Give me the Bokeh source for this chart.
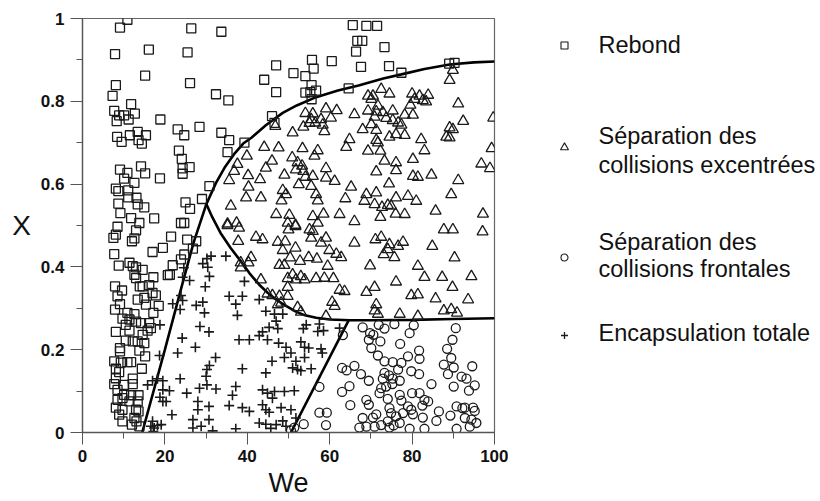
from bokeh.plotting import figure
from bokeh.models import Range1d, FixedTicker
from bokeh.layouts import row
from bokeh.embed import file_html
from bokeh.resources import INLINE
from bokeh.core.properties import value

# ---------------- data ----------------
# Rebond (squares)
rebond_we = [10.9, 9.1, 26.4, 33.7, 7.9, 16.1, 25.5, 15.2, 8.1, 26.1, 32.4, 7.3, 11.8, 7.7, 8.9, 10.1, 12.7,
             8.3, 11.2, 18.9, 23.1, 28.4, 24.7, 33.7, 8.4, 9.5, 11.5, 13.4, 15.4, 13.6, 14.4, 23.4, 24.1,
             9.1, 10.9, 14.2, 15.2, 18.8, 24.3, 26.0, 24.3, 10.1, 12.6, 8.1, 8.7, 11.1, 30.8, 11.1, 13.1,
             29.0, 8.7, 13.4, 15.0, 25.0, 26.1, 9.2, 11.8, 13.8, 17.4, 23.9, 24.7, 8.5,
             65.6, 66.7, 67.9, 66.4, 67.6, 55.7, 60.5, 47.0, 56.1, 51.2, 54.1, 44.1, 47.0, 55.6, 54.1, 55.3,
             56.7, 55.6, 64.6, 35.4, 46.0, 46.6, 35.6, 39.3, 35.2,
             68.9, 71.5, 73.3, 74.4, 77.4, 89.0, 90.3,
             13.0, 7.5, 8.1, 12.0, 12.6, 21.5, 19.5, 17.0, 7.7, 25.4, 27.6, 26.8, 24.7, 23.9, 21.9, 8.8,
             11.4, 12.2, 13.0, 14.6, 12.6, 13.0, 17.2, 20.7, 21.2, 13.9, 14.6, 16.2, 7.9, 9.6, 8.5, 17.0,
             17.8, 13.4, 15.0, 15.4, 9.1, 18.5, 7.9, 10.9, 12.6, 17.2, 9.7, 11.4, 13.0, 10.5, 14.2, 16.2,
             15.8, 16.6, 8.1, 11.4, 14.6, 10.5, 12.2, 13.4, 15.0, 9.1, 9.1, 13.8, 15.2, 7.7, 9.3, 10.9,
             11.8, 8.1, 8.9, 14.4, 8.1, 12.2, 7.7, 10.1, 12.2, 8.5, 10.1, 11.8, 13.6, 8.5, 9.7, 11.4,
             13.4, 8.1, 9.7, 13.0, 8.9, 13.6, 9.7, 12.6, 12.0, 13.8, 13.1]
rebond_x = [0.997, 0.978, 0.976, 0.968, 0.914, 0.925, 0.918, 0.862, 0.839, 0.844, 0.817, 0.813, 0.793, 0.777,
            0.766, 0.766, 0.770, 0.752, 0.756, 0.756, 0.732, 0.738, 0.718, 0.724, 0.714, 0.702, 0.718, 0.726,
            0.718, 0.706, 0.698, 0.681, 0.661, 0.635, 0.627, 0.643, 0.626, 0.614, 0.638, 0.641, 0.625, 0.613,
            0.603, 0.589, 0.583, 0.585, 0.595, 0.568, 0.567, 0.564, 0.553, 0.551, 0.544, 0.556, 0.540, 0.530,
            0.518, 0.506, 0.517, 0.506, 0.506, 0.497,
            0.984, 0.946, 0.946, 0.920, 0.883, 0.900, 0.897, 0.887, 0.879, 0.868, 0.861, 0.852, 0.822, 0.839,
            0.821, 0.822, 0.826, 0.805, 0.831, 0.802, 0.764, 0.748, 0.706, 0.700, 0.677,
            0.982, 0.982, 0.931, 0.885, 0.869, 0.891, 0.893,
            0.488, 0.470, 0.478, 0.462, 0.469, 0.473, 0.446, 0.436, 0.431, 0.466, 0.462, 0.444, 0.430, 0.418,
            0.404, 0.403, 0.410, 0.402, 0.399, 0.393, 0.381, 0.373, 0.375, 0.380, 0.381, 0.353, 0.353, 0.356,
            0.353, 0.343, 0.329, 0.337, 0.331, 0.321, 0.325, 0.309, 0.310, 0.306, 0.297, 0.289, 0.286, 0.289,
            0.275, 0.273, 0.268, 0.260, 0.264, 0.264, 0.246, 0.252, 0.243, 0.246, 0.236, 0.222, 0.220, 0.220,
            0.216, 0.204, 0.196, 0.198, 0.184, 0.172, 0.169, 0.170, 0.170, 0.154, 0.146, 0.154, 0.131, 0.130,
            0.117, 0.115, 0.117, 0.103, 0.091, 0.090, 0.090, 0.079, 0.083, 0.075, 0.075, 0.060, 0.055, 0.055,
            0.043, 0.051, 0.027, 0.035, 0.019, 0.015, 0.027]

# Separation des collisions excentrees (triangles)
excentrees_we = [54.1, 55.9, 55.5, 59.1, 61.7, 66.0, 57.9, 60.3, 55.1, 56.5, 58.3, 58.7, 53.6, 46.8, 51.0, 64.8,
                 64.0, 44.1, 47.6, 53.4, 57.1, 56.3, 39.9, 46.0, 50.9, 52.2, 53.3, 53.6, 37.6, 36.8, 44.5, 51.8,
                 59.1, 55.9, 54.1, 59.1, 61.2, 35.6, 40.2, 43.1, 49.0, 52.5, 55.5, 40.3, 48.6, 49.4, 65.2, 56.7,
                 39.7, 43.3, 48.3, 57.1, 63.8, 36.0, 47.0, 50.2, 55.9, 58.5, 62.4, 66.0, 35.2, 37.4, 49.8, 51.7,
                 57.1,
                 89.9, 89.1, 72.5, 74.5, 69.3, 70.5, 70.1, 80.0, 81.8, 83.9, 80.6, 82.6, 83.4, 79.6, 91.2, 71.7,
                 69.3, 71.3, 72.9, 75.3, 78.2, 80.2, 70.9, 73.7, 75.3, 76.6, 77.4, 70.1, 68.0, 71.3, 92.4, 99.7,
                 89.1, 89.9, 88.3, 89.1, 74.5, 76.1, 78.2, 82.2, 71.3, 71.7, 69.3, 72.3, 83.0, 99.3, 73.3, 76.1,
                 80.2, 96.8, 98.9, 71.3, 76.1, 80.2, 81.4, 84.7, 91.2, 74.4, 68.9, 71.3, 89.5, 79.0, 76.1, 68.4,
                 70.9, 72.7, 74.1, 74.9, 81.0, 76.0, 78.2, 85.7, 72.3, 97.2,
                 35.2, 38.0, 37.8, 42.1, 43.7, 47.4, 49.2, 50.0, 51.7, 55.1, 55.9, 59.1, 55.5, 57.9, 51.7, 48.6,
                 59.9, 61.6, 62.8, 66.0, 54.9, 56.9, 50.4, 52.8, 40.9, 38.4, 40.3, 47.8, 49.0, 59.5, 38.4, 51.0,
                 53.0, 49.8, 51.8, 53.9, 56.7, 58.7, 60.9, 43.3, 49.8, 62.4, 63.6, 44.9, 46.1, 49.8, 47.8, 60.6,
                 61.2, 47.4, 48.2, 52.2, 53.0, 59.1,
                 87.7, 89.9, 97.1, 71.1, 72.5, 74.5, 76.6, 77.8, 74.1, 73.1, 75.7, 84.9, 90.3, 69.8, 81.4, 83.0,
                 87.3, 94.4, 76.1, 89.8, 70.9, 68.9, 79.8, 81.4, 85.7, 93.6, 71.3, 70.9, 71.7, 77.0, 81.4, 87.7,
                 89.5, 90.9]
excentrees_x = [0.771, 0.770, 0.756, 0.782, 0.778, 0.768, 0.756, 0.760, 0.747, 0.748, 0.743, 0.727, 0.738, 0.740,
                0.724, 0.708, 0.689, 0.689, 0.688, 0.686, 0.681, 0.668, 0.668, 0.656, 0.664, 0.652, 0.644, 0.631,
                0.648, 0.631, 0.639, 0.635, 0.638, 0.619, 0.617, 0.615, 0.607, 0.609, 0.621, 0.611, 0.622, 0.599,
                0.595, 0.593, 0.585, 0.575, 0.593, 0.575, 0.567, 0.567, 0.560, 0.560, 0.565, 0.547, 0.527, 0.525,
                0.522, 0.528, 0.527, 0.510, 0.504, 0.506, 0.506, 0.501, 0.506,
                0.875, 0.851, 0.829, 0.818, 0.813, 0.813, 0.805, 0.818, 0.813, 0.815, 0.805, 0.802, 0.799, 0.791,
                0.794, 0.789, 0.777, 0.775, 0.773, 0.777, 0.767, 0.767, 0.762, 0.759, 0.754, 0.748, 0.743, 0.744,
                0.732, 0.730, 0.752, 0.760, 0.736, 0.732, 0.714, 0.712, 0.714, 0.720, 0.718, 0.708, 0.706, 0.700,
                0.680, 0.680, 0.681, 0.686, 0.656, 0.652, 0.660, 0.649, 0.638, 0.630, 0.633, 0.619, 0.617, 0.622,
                0.609, 0.601, 0.575, 0.579, 0.575, 0.571, 0.567, 0.559, 0.551, 0.544, 0.549, 0.547, 0.559, 0.528,
                0.527, 0.535, 0.520, 0.528,
                0.500, 0.494, 0.462, 0.472, 0.466, 0.460, 0.461, 0.490, 0.498, 0.490, 0.486, 0.470, 0.470, 0.458,
                0.446, 0.440, 0.440, 0.431, 0.423, 0.458, 0.423, 0.419, 0.422, 0.414, 0.423, 0.410, 0.410, 0.404,
                0.404, 0.402, 0.398, 0.381, 0.377, 0.372, 0.369, 0.369, 0.372, 0.373, 0.372, 0.369, 0.351, 0.344,
                0.341, 0.335, 0.331, 0.329, 0.329, 0.315, 0.305, 0.309, 0.313, 0.302, 0.291, 0.281,
                0.490, 0.490, 0.485, 0.466, 0.472, 0.454, 0.450, 0.460, 0.442, 0.430, 0.423, 0.450, 0.422, 0.403,
                0.402, 0.375, 0.375, 0.377, 0.364, 0.351, 0.351, 0.339, 0.331, 0.333, 0.323, 0.321, 0.309, 0.294,
                0.286, 0.286, 0.281, 0.294, 0.297, 0.289]

# Separation des collisions frontales (circles)
frontales_we = [50.6, 51.4, 53.7, 57.5, 59.3, 59.1, 57.5, 63.2, 63.0, 64.1, 66.0, 64.8, 63.0, 65.0,
                68.0, 71.9, 73.3, 75.7, 80.4, 79.4, 90.6, 69.8, 70.6, 69.5, 72.3, 77.1, 89.8, 70.1, 81.7, 88.5,
                71.7, 79.0, 81.8, 89.5, 73.3, 75.3, 77.4, 76.6, 79.8, 81.7, 87.7, 90.1, 94.6, 88.7, 92.0, 93.2,
                67.6, 69.5, 73.3, 74.4, 72.9, 75.3, 77.0, 75.2, 84.7, 95.2, 72.5, 73.7, 90.1, 93.8, 72.1, 80.0,
                81.8, 74.1, 77.0, 83.0, 83.9, 68.9, 69.5, 77.4, 79.0, 82.5, 90.8, 92.2, 92.8, 94.8, 95.2, 74.5,
                74.9, 79.8, 80.2, 86.5, 71.3, 70.5, 68.0, 76.1, 77.8, 82.6, 89.3, 92.8, 94.4, 95.6, 85.9, 74.1,
                77.0, 67.2, 68.9, 70.9, 72.5, 74.5, 75.5, 79.4, 83.0, 90.8, 94.0]
frontales_x = [0.005, 0.012, 0.020, 0.048, 0.048, 0.018, 0.110, 0.235, 0.156, 0.150, 0.161, 0.112, 0.098, 0.066,
               0.254, 0.260, 0.251, 0.262, 0.259, 0.240, 0.252, 0.240, 0.236, 0.224, 0.220, 0.214, 0.224, 0.204,
               0.198, 0.202, 0.186, 0.184, 0.178, 0.180, 0.172, 0.170, 0.168, 0.152, 0.148, 0.141, 0.164, 0.157,
               0.160, 0.141, 0.135, 0.130, 0.141, 0.125, 0.144, 0.138, 0.130, 0.130, 0.125, 0.117, 0.117, 0.114,
               0.107, 0.111, 0.111, 0.101, 0.095, 0.095, 0.095, 0.081, 0.091, 0.079, 0.075, 0.079, 0.067, 0.077,
               0.063, 0.065, 0.063, 0.059, 0.060, 0.060, 0.052, 0.059, 0.047, 0.055, 0.044, 0.051, 0.044, 0.036,
               0.035, 0.039, 0.047, 0.036, 0.041, 0.035, 0.031, 0.023, 0.028, 0.027, 0.023, 0.012, 0.014, 0.014,
               0.018, 0.012, 0.017, 0.009, 0.009, 0.009, 0.014]

# Encapsulation totale (plus signs)
encaps_we = [31.2, 30.2, 29.2, 30.4, 24.6, 24.3, 26.0, 30.8, 29.8, 23.9, 24.3, 21.9, 27.6, 29.2, 23.7, 29.6,
             28.5, 30.7, 24.2, 18.8, 27.4, 23.1, 18.7, 32.3, 30.8, 30.2, 30.0, 23.7, 17.0, 18.2, 19.5, 15.8,
             19.5, 21.1, 28.4, 30.2, 32.4, 25.3, 18.8, 20.3, 19.5, 28.0, 30.7, 28.0, 21.7, 26.8, 30.7, 28.8,
             26.8, 31.6, 17.0, 16.6, 17.4, 18.2, 19.1, 17.2,
             34.8, 39.3, 35.6, 38.8, 37.2, 42.9, 37.6, 44.5, 46.6, 48.6, 47.0, 45.3, 47.4, 54.3, 53.6, 57.5,
             57.1, 58.5, 62.4, 43.7, 42.9, 44.9, 38.0, 40.5, 47.6, 49.4, 53.0, 53.9, 54.9, 57.9, 50.6, 49.0,
             53.9, 58.2, 46.0, 51.8, 51.0, 52.2, 53.0, 55.5, 38.8, 44.5, 37.2, 43.7, 44.9, 46.6, 49.0,
             51.4, 36.4, 46.1, 35.6, 38.8, 40.5, 43.7, 44.5, 45.3, 48.2, 50.6, 42.9, 44.5, 45.7, 47.0, 48.6,
             49.4, 37.2, 51.8]
encaps_x = [0.426, 0.420, 0.408, 0.399, 0.398, 0.375, 0.367, 0.377, 0.352, 0.331, 0.319, 0.311, 0.307, 0.315,
            0.297, 0.289, 0.256, 0.243, 0.228, 0.260, 0.206, 0.192, 0.186, 0.181, 0.162, 0.152, 0.136, 0.130,
            0.125, 0.130, 0.125, 0.115, 0.103, 0.101, 0.107, 0.115, 0.105, 0.095, 0.085, 0.075, 0.075, 0.075,
            0.063, 0.055, 0.043, 0.031, 0.031, 0.015, 0.011, 0.004, 0.027, 0.015, 0.011, 0.017, 0.019, 0.002,
            0.426, 0.365, 0.329, 0.329, 0.310, 0.321, 0.283, 0.293, 0.286, 0.286, 0.269, 0.254, 0.251, 0.260,
            0.251, 0.262, 0.244, 0.246, 0.252, 0.243, 0.234, 0.224, 0.224, 0.224, 0.216, 0.206, 0.219, 0.206,
            0.204, 0.202, 0.192, 0.181, 0.181, 0.192, 0.172, 0.172, 0.156, 0.152, 0.149, 0.154, 0.154, 0.144,
            0.111, 0.103, 0.095, 0.099, 0.099, 0.101, 0.090, 0.083, 0.065, 0.060, 0.051, 0.067, 0.055, 0.049,
            0.060, 0.055, 0.023, 0.020, 0.010, 0.019, 0.028, 0.015, 0.009, 0.035]

# Boundary curves
upper_we = [14.5, 20, 24, 27, 30, 32.4, 34.5, 37, 39, 41, 44.5, 48.6, 52, 56.7, 62, 67, 73, 77.4, 83, 89.1, 95, 100]
upper_x = [0.0, 0.20, 0.35, 0.46, 0.55, 0.603, 0.64, 0.675, 0.698, 0.712, 0.742, 0.772, 0.790, 0.810, 0.826,
           0.838, 0.855, 0.865, 0.878, 0.889, 0.894, 0.896]
lower_we = [30, 31.5, 33.5, 36, 38.4, 40.5, 42.9, 45, 47, 49.5, 51.8, 54, 56.7, 60, 64.8, 70, 80, 90, 100]
lower_x = [0.553, 0.52, 0.482, 0.445, 0.414, 0.385, 0.357, 0.337, 0.321, 0.305, 0.292, 0.283, 0.277, 0.273,
           0.271, 0.271, 0.272, 0.274, 0.276]
right_we = [50.6, 64.6]
right_x = [0.0, 0.271]

x_ticks = [0, 20, 40, 60, 80, 100]
x_minor = [10, 30, 50, 70, 90]
x_tick_labels = ["0", "20", "40", "60", "80", "100"]
y_ticks = [0, 0.2, 0.4, 0.6, 0.8, 1]
y_minor = [0.1, 0.3, 0.5, 0.7, 0.9]
y_tick_labels = ["0", "0.2", "0.4", "0.6", "0.8", "1"]

x_title = "We"
y_title = "X"
legend_lines = ["Rebond", "Séparation des", "collisions excentrées", "Séparation des", "collisions frontales",
                "Encapsulation totale"]

FONT = "Liberation Sans"
INK = "#1a1a1a"

# ---------------- main plot ----------------
p = figure(width=508, height=501, x_range=Range1d(0, 100), y_range=Range1d(0, 1),
           output_backend="svg", toolbar_location=None,
           min_border_left=82, min_border_right=14, min_border_top=18, min_border_bottom=69)
p.xgrid.visible = False
p.ygrid.visible = False
p.outline_line_color = "#666666"
p.outline_line_width = 1.2
p.background_fill_color = "white"
p.border_fill_color = "white"

p.xaxis.ticker = FixedTicker(ticks=x_ticks, minor_ticks=x_minor)
p.yaxis.ticker = FixedTicker(ticks=y_ticks, minor_ticks=y_minor)
p.xaxis.major_label_overrides = {t: l for t, l in zip(x_ticks, x_tick_labels)}
p.yaxis.major_label_overrides = {t: l for t, l in zip(y_ticks, y_tick_labels)}
for ax in (p.xaxis, p.yaxis):
    ax.axis_line_color = "#555555"
    ax.axis_line_width = 1.3
    ax.major_tick_line_color = "#555555"
    ax.minor_tick_line_color = "#555555"
    ax.major_tick_out = 12
    ax.major_tick_in = 0
    ax.minor_tick_out = 6
    ax.minor_tick_in = 0
    ax.major_label_text_font = FONT
    ax.major_label_text_font_size = "17px"
    ax.major_label_text_font_style = "bold"
    ax.major_label_text_color = "#111111"
    ax.axis_label_text_font = FONT
    ax.axis_label_text_font_style = "normal"
    ax.axis_label_text_color = "#111111"
p.yaxis.major_label_standoff = 6
p.xaxis.major_label_standoff = 5
p.xaxis.axis_label = x_title
p.xaxis.axis_label_text_font_size = "27px"
p.xaxis.axis_label_standoff = 3
p.yaxis.axis_label = y_title
p.yaxis.axis_label_text_font_size = "28px"
p.yaxis.axis_label_standoff = 7
p.yaxis.axis_label_orientation = "horizontal"

p.line(upper_we, upper_x, line_color="black", line_width=2.6)
p.line(lower_we, lower_x, line_color="black", line_width=2.6)
p.line(right_we, right_x, line_color="black", line_width=2.6)

p.scatter(rebond_we, rebond_x, marker="square", size=9, fill_color=None, line_color=INK, line_width=1.3)
p.scatter(excentrees_we, excentrees_x, marker="triangle", size=11, fill_color=None, line_color=INK,
          line_width=1.3)
p.scatter(frontales_we, frontales_x, marker="circle", size=9, fill_color=None, line_color=INK, line_width=1.3)
p.scatter(encaps_we, encaps_x, marker="cross", size=10, line_color=INK, line_width=1.6)

# ---------------- legend panel ----------------
# In a row, this panel's frame is aligned with the main frame (page rows 18..432),
# so its y range is expressed in page pixel rows.
q = figure(width=310, height=501, x_range=Range1d(0, 310), y_range=Range1d(432, 18),
           output_backend="svg", toolbar_location=None, min_border=0,
           x_axis_location=None, y_axis_location=None)
q.outline_line_color = None
q.xgrid.visible = False
q.ygrid.visible = False

mk_x = 56
q.scatter([mk_x], [45], marker="square", size=7, fill_color=None, line_color=INK, line_width=1.1)
q.scatter([mk_x], [147], marker="triangle", size=8, fill_color=None, line_color=INK, line_width=1.1)
q.scatter([mk_x], [257], marker="circle", size=7, fill_color=None, line_color=INK, line_width=1.1)
q.scatter([mk_x], [335], marker="cross", size=7, line_color=INK, line_width=1.3)

q.text(x=[90] * 6, y=[44, 135, 164, 241, 268, 332], text=legend_lines,
       text_font=value(FONT), text_font_size="23.5px", text_baseline="middle", text_align="left",
       text_color="#111111")

layout = row(p, q)
open("out.html", "w").write(file_html(layout, INLINE))
